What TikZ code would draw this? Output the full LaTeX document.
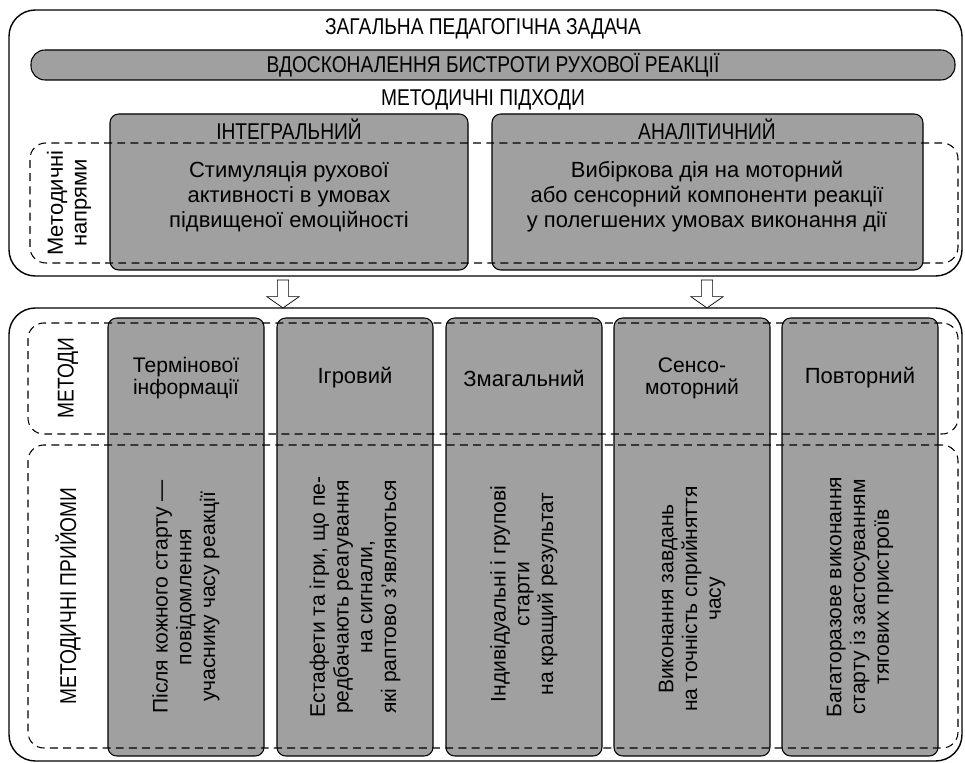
\documentclass[tikz,border=0pt]{standalone}
\usepackage{fontspec}
\setmainfont{Liberation Sans}
\newfontfamily\narrowfont[FakeStretch=0.84]{Liberation Sans}
\usetikzlibrary{fit,shapes.arrows,positioning}
\definecolor{shade}{HTML}{A0A0A0}

\begin{document}
\begin{tikzpicture}[x=0.02cm,y=-0.02cm,
  frame/.style={draw,thick,rounded corners=15pt,inner sep=0pt},
  greybox/.style={draw,semithick,fill=shade,rounded corners=5pt,inner sep=0pt},
  dashbox/.style={draw,semithick,dash pattern=on 4.5pt off 3pt,rounded corners=9pt,inner sep=0pt},
  head/.style={font=\narrowfont\fontsize{13}{14}\selectfont},
  txt/.style={font=\fontsize{12.5}{14.3}\selectfont,align=center},
  coltxt/.style={font=\fontsize{12}{13.5}\selectfont,align=center,rotate=90},
  downarrow/.style={single arrow,draw,fill=white,rotate=-90,inner sep=3pt,
    single arrow head extend=6pt,single arrow head indent=0pt,
    single arrow tip angle=110,minimum height=0.56cm}]

\useasboundingbox (0,0) rectangle (965,763);

% upper part
\node[frame,fit={(9,10) (962,276)}] (upper) {};
\node[head] (task) at (483,29) {ЗАГАЛЬНА ПЕДАГОГІЧНА ЗАДАЧА};
\node[greybox,rounded corners=8pt,fit={(31,50) (955,80)}] (banner) {};
\node[head] at (banner) {ВДОСКОНАЛЕННЯ БИСТРОТИ РУХОВОЇ РЕАКЦІЇ};
\node[head] (approach) at (483,100) {МЕТОДИЧНІ ПІДХОДИ};

\node[greybox,fit={(110,114) (468,270)}] (integ) {};
\node[greybox,fit={(492,114) (923,270)}] (anal) {};
\node[head] at (289,129) {ІНТЕГРАЛЬНИЙ};
\node[head] at (707,129) {АНАЛІТИЧНИЙ};
\node[txt] at (289,197) {Стимуляція рухової\\активності в умовах\\підвищеної емоційності};
\node[txt] at (707,197) {Вибіркова дія на моторний\\або сенсорний компоненти реакції\\у полегшених умовах виконання дії};

\node[dashbox,fit={(30,143) (958,263)}] (dirs) {};
\node[txt,rotate=90,font=\fontsize{12.5}{13.5}\selectfont] at (69,203) {Методичні\\напрями};

% lower part
\node[frame,fit={(9,308) (962,761)}] (lower) {};

\node[downarrow] (arr1) at (283,292) {};
\node[downarrow] (arr2) at (707,292) {};

\foreach \n/\x in {1/108,2/277,3/446,4/614,5/782}
  \node[greybox,fit={(\x,318) (\x+156,756)}] (col\n) {};

\node[dashbox,fit={(28,323) (958,434)}] (methods) {};
\node[dashbox,fit={(28,445) (958,748)}] (tricks) {};
\node[head,rotate=90] at (68,378) {МЕТОДИ};
\node[head,rotate=90] at (68,596) {МЕТОДИЧНІ ПРИЙОМИ};

\node[txt,font=\fontsize{12}{12.5}\selectfont] at (col1 |- 0,378) {Термінової\\інформації};
\node[txt] at (col2 |- 0,378) {Ігровий};
\node[txt] at (col3 |- 0,378) {Змагальний};
\node[txt,font=\fontsize{12}{12.5}\selectfont] at (col4 |- 0,378) {Сенсо-\\моторний};
\node[txt] at (col5 |- 0,378) {Повторний};

\node[coltxt] at (col1 |- 0,597) {Після кожного старту —\\повідомлення\\учаснику часу реакції};
\node[coltxt] at (col2 |- 0,597) {Естафети та ігри, що пе-\\редбачають реагування\\на сигнали,\\які раптово з’являються};
\node[coltxt] at (col3 |- 0,594) {Індивідуальні і групові\\старти\\на кращий результат};
\node[coltxt] at (col4 |- 0,599) {Виконання завдань\\на точність сприйняття\\часу};
\node[coltxt] at (col5 |- 0,597) {Багаторазове виконання\\старту із застосуванням\\тягових пристроїв};

\end{tikzpicture}
\end{document}
